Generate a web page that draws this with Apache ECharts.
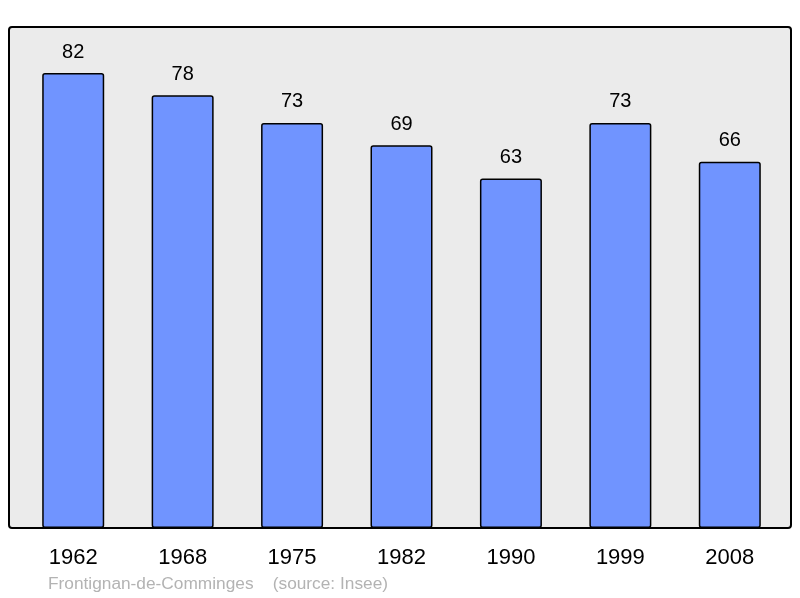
<!DOCTYPE html>
<html>
<head>
<meta charset="utf-8">
<script src="https://cdn.jsdelivr.net/npm/echarts@6/dist/echarts.min.js"></script>
<style>
  html, body { margin: 0; padding: 0; background: #fff; }
  #chart { width: 800px; height: 598px; }
</style>
</head>
<body>
<div id="chart"></div>
<script>
const years = ['1962', '1968', '1975', '1982', '1990', '1999', '2008'];
const population = [82, 78, 73, 69, 63, 73, 66];
const footer = 'Frontignan-de-Comminges    (source: Insee)';

const chart = echarts.init(document.getElementById('chart'), null, { renderer: 'canvas' });

chart.setOption({
  animation: false,
  textStyle: { fontFamily: 'Liberation Sans, Arial, sans-serif' },
  graphic: [
    {
      type: 'rect',
      z: -10,
      shape: { x: 9, y: 27, width: 782, height: 501, r: 3 },
      style: { fill: '#ebebeb', stroke: '#000', lineWidth: 2 }
    },
    {
      type: 'text',
      left: 48,
      top: 576,
      style: {
        text: footer,
        fill: '#b3b3b3',
        font: '17.3px "Liberation Sans", Arial, sans-serif'
      }
    }
  ],
  grid: { left: 18.5, right: 15.5, top: 27, bottom: 70 },
  xAxis: {
    type: 'category',
    data: years,
    axisLine: { show: false },
    axisTick: { show: false },
    axisLabel: { color: '#000', fontSize: 22, margin: 19 }
  },
  yAxis: {
    type: 'value',
    min: 0,
    max: 90.3,
    show: false,
    splitLine: { show: false }
  },
  series: [{
    type: 'bar',
    data: population,
    barWidth: 62,
    itemStyle: {
      color: '#7094ff',
      borderColor: '#000',
      borderWidth: 1.5,
      borderRadius: 2
    },
    label: {
      show: true,
      position: 'top',
      distance: 11,
      color: '#000',
      fontSize: 20
    }
  }]
});
</script>
</body>
</html>
